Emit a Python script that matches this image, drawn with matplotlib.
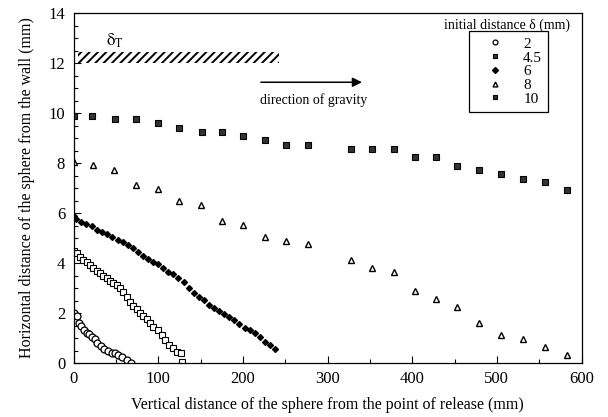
import numpy as np
import matplotlib
matplotlib.use("Agg")
import matplotlib.pyplot as plt
from matplotlib.patches import Rectangle
from matplotlib.lines import Line2D
from matplotlib.ticker import MultipleLocator

plt.rcParams['font.family'] = ['Liberation Serif', 'DejaVu Serif']
plt.rcParams['mathtext.fontset'] = 'stix'
plt.rcParams['hatch.linewidth'] = 1.4

# initial distance 2 mm
x_2 = [0, 3.8, 6.5, 8.9, 12.8, 15.6, 18.3, 21.5, 25.4, 28.1, 32.5, 36.4,
       41.1, 45.2, 49.1, 53.0, 57.0, 62.9, 68.0]
y_2 = [1.99, 1.88, 1.61, 1.48, 1.32, 1.21, 1.15, 1.05, 0.95, 0.81, 0.68, 0.56,
       0.48, 0.41, 0.39, 0.32, 0.23, 0.12, 0.02]

# initial distance 4.5 mm
x_45 = [0, 3.8, 7.7, 11.6, 15.6, 19.5, 23.4, 27.4, 31.3, 35.2, 39.2, 43.1,
        47.0, 51.1, 55.0, 58.9, 62.9, 66.8, 70.7, 74.7, 78.6, 82.5, 86.5,
        90.4, 94.3, 100.2, 104.3, 108.2, 112.9, 118.0, 122.0, 126.7, 128.6]
y_45 = [4.49, 4.39, 4.25, 4.12, 4.03, 3.92, 3.79, 3.69, 3.61, 3.48, 3.41, 3.29,
        3.21, 3.12, 2.99, 2.83, 2.64, 2.46, 2.30, 2.15, 2.02, 1.88, 1.75,
        1.59, 1.45, 1.32, 1.12, 0.92, 0.72, 0.59, 0.43, 0.41, 0.06]

# initial distance 6 mm
x_6 = [0, 3, 9, 15, 22, 28, 34, 40, 46, 52, 58, 64, 70, 76, 82, 88, 94, 100,
       106, 112, 118, 124, 130, 136, 142, 148, 154, 160, 166, 172, 178, 184,
       190, 196, 202, 208, 214, 220, 226, 232, 238]
y_6 = [5.87, 5.78, 5.66, 5.58, 5.50, 5.33, 5.24, 5.15, 5.04, 4.92, 4.83, 4.72,
       4.60, 4.45, 4.30, 4.18, 4.04, 3.97, 3.82, 3.66, 3.55, 3.40, 3.25, 3.02,
       2.82, 2.66, 2.52, 2.34, 2.20, 2.08, 1.95, 1.84, 1.72, 1.58, 1.42, 1.32,
       1.22, 1.06, 0.86, 0.71, 0.55]

# initial distance 8 mm
x_8 = [0, 22.7, 48.2, 73.5, 100.2, 125.0, 150.4, 175.2, 200.7, 226.4, 251.2,
       276.4, 327.7, 352.5, 378.0, 403.7, 428.5, 453.3, 479.0, 505.3, 531.0,
       556.5, 583.0]
y_8 = [8.03, 7.92, 7.72, 7.12, 6.96, 6.48, 6.32, 5.69, 5.53, 5.05, 4.88,
       4.75, 4.12, 3.79, 3.64, 2.87, 2.55, 2.23, 1.61, 1.13, 0.96,
       0.63, 0.32]

# initial distance 10 mm
x_10 = [0, 21.5, 49.0, 73.9, 99.5, 124.7, 151.5, 175.9, 200.7, 226.4, 251.2,
        276.4, 327.7, 352.5, 378.0, 403.7, 428.5, 453.3, 479.0, 505.3, 531.0,
        556.5, 583.0]
y_10 = [9.9, 9.88, 9.75, 9.75, 9.59, 9.41, 9.23, 9.23, 9.08, 8.91, 8.73,
        8.73, 8.57, 8.57, 8.57, 8.25, 8.25, 7.89, 7.71, 7.57, 7.37,
        7.23, 6.91]

fig = plt.figure(figsize=(6.08, 4.17), dpi=100)
ax = fig.add_axes([73.5/608, 1-363/417, 508/608, 350/417])

ax.plot(x_2, y_2, 'o', ms=5, mfc='white', mec='black', mew=0.9, ls='none')
ax.plot(x_45, y_45, 's', ms=4.3, mfc='white', mec='black', mew=0.8, ls='none')
ax.plot(x_6, y_6, 'D', ms=3.0, mfc='black', mec='black', ls='none')
ax.plot(x_8, y_8, '^', ms=4.5, mfc='white', mec='black', mew=1.0, ls='none')
ax.plot(x_10, y_10, 's', ms=4.6, mfc='#333333', mec='black', mew=0.8, ls='none')

ax.set_xlim(0, 600)
ax.set_ylim(0, 14)
ax.xaxis.set_major_locator(MultipleLocator(100))
ax.xaxis.set_minor_locator(MultipleLocator(50))
ax.yaxis.set_major_locator(MultipleLocator(2))
ax.yaxis.set_minor_locator(MultipleLocator(0.5))
ax.tick_params(which='both', direction='in', top=False, right=False,
               labelsize=12, width=0.8)
ax.tick_params(which='major', length=5, pad=6)
ax.tick_params(which='minor', length=3)
for s in ax.spines.values():
    s.set_linewidth(0.9)

ax.set_xlabel("Vertical distance of the sphere from the point of release (mm)",
              fontsize=11.5, labelpad=7)
ax.set_ylabel("Horizontal distance of the sphere from the wall (mm)",
              fontsize=11.5, labelpad=10)

# delta_T band
ax.add_patch(Rectangle((5, 12.0), 238, 0.45, hatch='////', fill=False,
                       edgecolor='black', linewidth=0))
ax.text(38, 12.9, r'$\mathrm{\delta}_{\mathrm{T}}$', fontsize=12,
        ha='left', va='center')

# gravity arrow
ax.annotate('', xy=(344, 11.23), xytext=(218, 11.23),
            arrowprops=dict(arrowstyle='-|>', color='black', lw=1.1,
                            mutation_scale=14))
ax.text(220, 10.5, 'direction of gravity', fontsize=10, ha='left', va='center')

# legend
labels = ['2', '4.5', '6', '8', '10']
handles = [
    Line2D([], [], marker='o', ls='none', ms=3.5, mfc='white', mec='black', mew=0.9),
    Line2D([], [], marker='s', ls='none', ms=3.5, mfc='#333333', mec='black', mew=0.8),
    Line2D([], [], marker='D', ls='none', ms=3, mfc='black', mec='black'),
    Line2D([], [], marker='^', ls='none', ms=3.5, mfc='white', mec='black', mew=1.0),
    Line2D([], [], marker='s', ls='none', ms=3.5, mfc='#333333', mec='black', mew=0.8),
]
leg = ax.legend(handles, labels, loc='upper left',
                bbox_to_anchor=(469/608, 1-31/417), bbox_transform=fig.transFigure,
                fontsize=11, frameon=True, fancybox=False, framealpha=1,
                edgecolor='black', handlelength=2.6, handletextpad=0.55,
                labelspacing=0.0, borderpad=0.4, borderaxespad=0)
leg.get_frame().set_linewidth(0.9)
fig.text(507/608, 1-25/417, 'initial distance δ (mm)', fontsize=10,
         ha='center', va='center')

fig.savefig('out.png', dpi=100)
